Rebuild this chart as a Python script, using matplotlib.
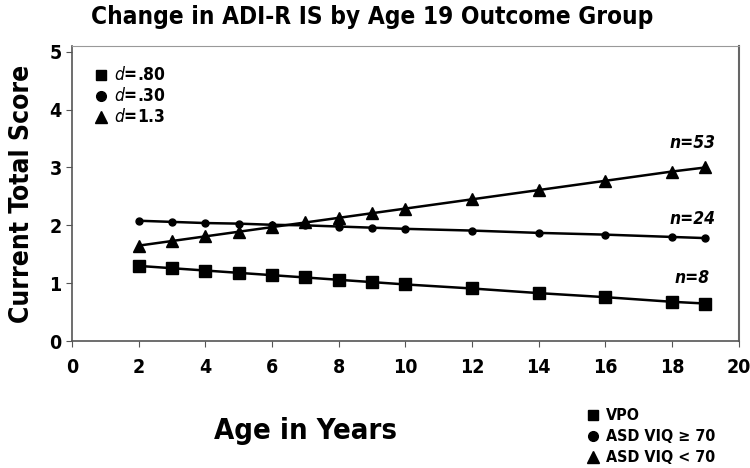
import matplotlib.pyplot as plt
from matplotlib.lines import Line2D

plt.rcParams['font.family'] = ['DejaVu Sans']
plt.rcParams['font.stretch'] = 'condensed'

ages = [2, 3, 4, 5, 6, 7, 8, 9, 10, 12, 14, 16, 18, 19]
vpo = [1.30, 1.26, 1.22, 1.18, 1.14, 1.10, 1.06, 1.02, 0.98, 0.91, 0.83, 0.76, 0.68, 0.65]
viq_hi = [2.08, 2.06, 2.04, 2.03, 2.01, 2.00, 1.98, 1.96, 1.94, 1.91, 1.87, 1.84, 1.80, 1.78]
viq_lo = [1.65, 1.73, 1.81, 1.89, 1.97, 2.05, 2.13, 2.21, 2.29, 2.45, 2.61, 2.77, 2.93, 3.00]
n_labels = ['n=8', 'n=24', 'n=53']
n_label_y = [1.09, 2.11, 3.42]
d_labels = ['.80', '.30', '1.3']
group_names = ['VPO', 'ASD VIQ \u2265 70', 'ASD VIQ < 70']

fig = plt.figure(figsize=(7.5, 4.68), dpi=100)
ax = fig.add_axes([0.096, 0.271, 0.889, 0.631])

ax.plot(ages, vpo, '-s', color='black', lw=1.8, ms=8)
ax.plot(ages, viq_hi, '-o', color='black', lw=1.8, ms=5)
ax.plot(ages, viq_lo, '-^', color='black', lw=1.8, ms=8)

# n labels at the right end
for y, lab in zip(n_label_y, n_labels):
    ax.text(18.6, y, lab, fontsize=12.5, fontweight='bold', style='italic',
            ha='center', va='center')

ax.set_xlim(0, 20)
ax.set_ylim(0, 5.1)
ax.set_xticks(range(0, 21, 2))
ax.set_yticks(range(0, 6))
ax.tick_params(labelsize=14, length=4, color='#555555')
for lab in ax.get_xticklabels() + ax.get_yticklabels():
    lab.set_fontweight('bold')
ax.tick_params(axis='x', pad=8)
for s in ['left', 'bottom']:
    ax.spines[s].set_color('#555555')
    ax.spines[s].set_linewidth(1.2)
ax.spines['top'].set_color('#999999')
ax.spines['right'].set_color('#666666')
ax.spines['right'].set_linewidth(1.5)

ax.set_ylabel('Current Total Score', fontsize=19, fontweight='bold', labelpad=10)
fig.text(0.407, 0.08, 'Age in Years', fontsize=21, fontweight='bold', ha='center', va='center')
fig.text(0.496, 0.963, 'Change in ADI-R IS by Age 19 Outcome Group', fontsize=17.5,
         fontweight='bold', ha='center', va='center')

# effect size legend (top left)
mk = ['s', 'o', '^']
mss = [7, 7, 8]
for i, (m, d) in enumerate(zip(mk, d_labels)):
    yy = 0.84 - i * 0.045
    fig.add_artist(Line2D([0.135], [yy], marker=m, ms=mss[i], color='black', transform=fig.transFigure))
    fig.text(0.152, yy, r'$\mathbf{\it{d}}$' + '=' + d, fontsize=12.5, fontweight='bold',
             ha='left', va='center')

# group legend (bottom right)
for i, (m, g) in enumerate(zip(mk, group_names)):
    yy = 0.113 - i * 0.045
    fig.add_artist(Line2D([0.79], [yy], marker=m, ms=mss[i], color='black', transform=fig.transFigure))
    fig.text(0.808, yy, g, fontsize=11.5, fontweight='bold', ha='left', va='center')

fig.savefig('out.png', dpi=100)
